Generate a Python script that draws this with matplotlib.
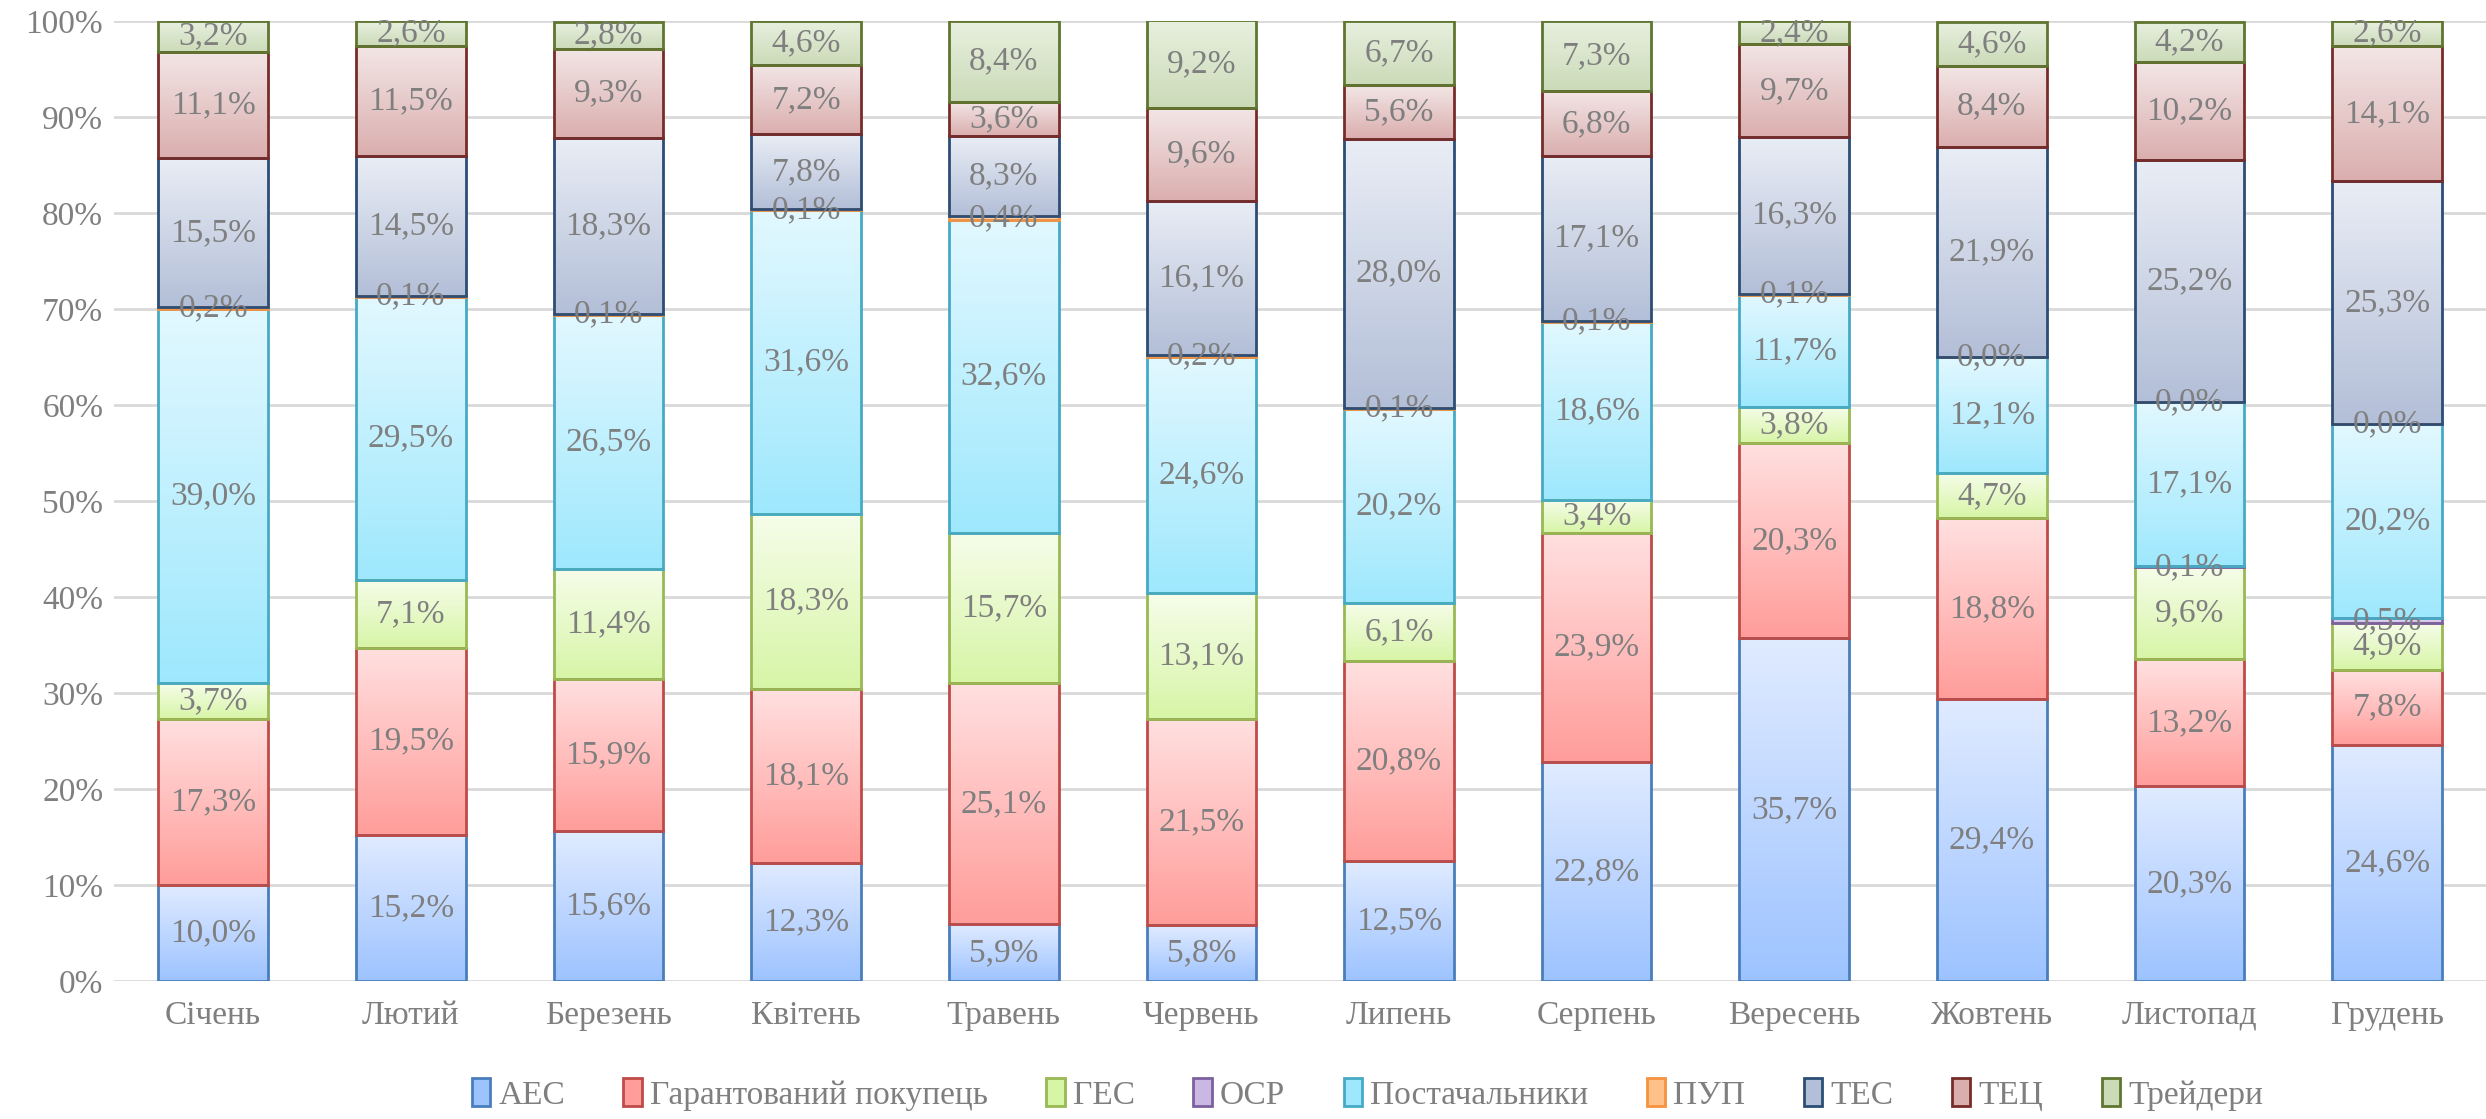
import numpy as np
import matplotlib
matplotlib.use("Agg")
from matplotlib import pyplot as plt
from matplotlib.colors import LinearSegmentedColormap
from matplotlib.patches import Patch

plt.rcParams['font.family'] = 'serif'
plt.rcParams['font.serif'] = ['Liberation Serif', 'DejaVu Serif']

months = ["Січень", "Лютий", "Березень", "Квітень", "Травень", "Червень",
          "Липень", "Серпень", "Вересень", "Жовтень", "Листопад", "Грудень"]
series = ["АЕС", "Гарантований покупець", "ГЕС", "ОСР", "Постачальники",
          "ПУП", "ТЕС", "ТЕЦ", "Трейдери"]

nan = np.nan
aes = [10.0, 15.2, 15.6, 12.3, 5.9, 5.8, 12.5, 22.8, 35.7, 29.4, 20.3, 24.6]
gp = [17.3, 19.5, 15.9, 18.1, 25.1, 21.5, 20.8, 23.9, 20.3, 18.8, 13.2, 7.8]
ges = [3.7, 7.1, 11.4, 18.3, 15.7, 13.1, 6.1, 3.4, 3.8, 4.7, 9.6, 4.9]
osr = [nan, nan, nan, nan, nan, nan, nan, nan, nan, nan, 0.1, 0.5]
post = [39.0, 29.5, 26.5, 31.6, 32.6, 24.6, 20.2, 18.6, 11.7, 12.1, 17.1, 20.2]
pup = [0.2, 0.1, 0.1, 0.1, 0.4, 0.2, 0.1, 0.1, 0.1, 0.0, 0.0, 0.0]
tes = [15.5, 14.5, 18.3, 7.8, 8.3, 16.1, 28.0, 17.1, 16.3, 21.9, 25.2, 25.3]
tec = [11.1, 11.5, 9.3, 7.2, 3.6, 9.6, 5.6, 6.8, 9.7, 8.4, 10.2, 14.1]
traders = [3.2, 2.6, 2.8, 4.6, 8.4, 9.2, 6.7, 7.3, 2.4, 4.6, 4.2, 2.6]

data = [aes, gp, ges, osr, post, pup, tes, tec, traders]

# (top colour, bottom colour, edge colour)
styles = [
    ('#e0ebff', '#9dc3ff', '#4a7ebb'),
    ('#ffe0e0', '#ff9d9a', '#be4b48'),
    ('#f6fdea', '#d7f5a6', '#98b954'),
    ('#ece6f5', '#c9b8e3', '#7d60a0'),
    ('#e2f8ff', '#9ee8fd', '#46aac5'),
    ('#ffe6d2', '#ffc08a', '#f69240'),
    ('#e9edf5', '#b3bfd8', '#2c4d75'),
    ('#f3e6e6', '#dbaeae', '#772c2a'),
    ('#e8f0df', '#cbdbb8', '#5f7530'),
]

grey = '#7f7f7f'
fs = 24

fig = plt.figure(figsize=(24.86, 11.19), dpi=100)
ax = fig.add_axes([0.046, 0.1233, 0.954, 0.8579])

x = np.arange(len(months))
width = 0.555
bottom = np.zeros(len(months))
grad = np.linspace(0, 1, 128).reshape(-1, 1)

for vals, name, (top_c, bot_c, edge_c) in zip(data, series, styles):
    v = np.array(vals, dtype=float)
    h = np.nan_to_num(v)
    cmap = LinearSegmentedColormap.from_list(name, [bot_c, top_c])
    bars = ax.bar(x, h, width, bottom=bottom, facecolor='none',
                  edgecolor=edge_c, linewidth=2, zorder=3)
    for i, b in enumerate(bars):
        if np.isnan(v[i]):
            b.set_visible(False)
            continue
        if h[i] > 0:
            x0, y0 = b.get_x(), b.get_y()
            ax.imshow(grad, extent=[x0, x0 + b.get_width(), y0, y0 + h[i]],
                      origin='lower', cmap=cmap, aspect='auto', zorder=2,
                      interpolation='bicubic')
        ax.text(x[i], bottom[i] + h[i] / 2, f"{v[i]:.1f}%".replace('.', ','),
                ha='center', va='center', fontsize=fs, color=grey, zorder=5)
    bottom += h

ax.set_xlim(-0.5, len(months) - 0.5)
ax.set_ylim(0, 100)
ax.set_yticks(np.arange(0, 101, 10))
ax.set_yticklabels([f"{t}%" for t in range(0, 101, 10)])
ax.set_xticks(x)
ax.set_xticklabels(months)
ax.tick_params(length=0, labelsize=fs, colors=grey)
ax.tick_params(axis='x', pad=14)
ax.tick_params(axis='y', pad=8)
ax.grid(axis='y', color='#d9d9d9', linewidth=2, zorder=0)
ax.set_axisbelow(True)
for s in ax.spines.values():
    s.set_visible(False)

handles = [Patch(facecolor=b, edgecolor=e, linewidth=2) for t, b, e in styles]
fig.legend(handles, series, loc='center', bbox_to_anchor=(0.55, 0.022),
           ncol=len(series), frameon=False, fontsize=fs, labelcolor=grey,
           handlelength=0.55, handleheight=0.9, handletextpad=0.25,
           columnspacing=1.75)

fig.savefig("out.png", dpi=100)
